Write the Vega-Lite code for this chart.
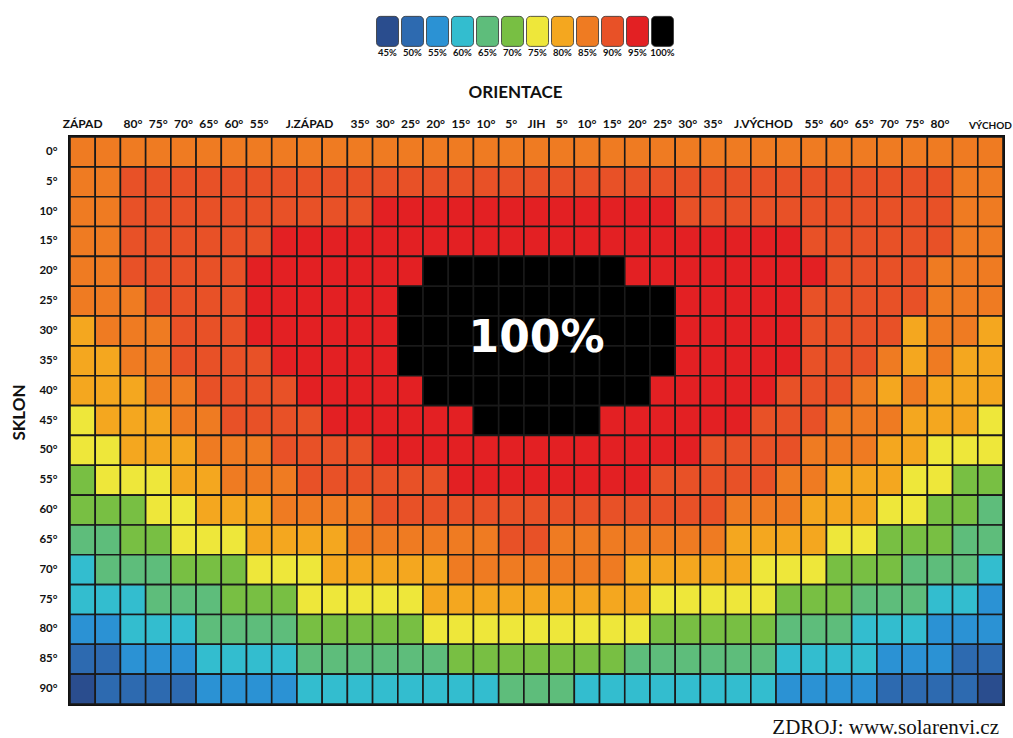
{
 "$schema": "https://vega.github.io/schema/vega-lite/v6.json",
 "width": 933,
 "height": 567,
 "autosize": {"type": "none"},
 "padding": {"left": 70, "top": 137, "right": 10, "bottom": 34},
 "background": "white",
 "config": {"view": {"stroke": "#111111", "strokeWidth": 4}, "font": "Lato"},
 "title": {"text": "ZDROJ: www.solarenvi.cz", "orient": "bottom", "anchor": "end", "frame": "group", "font": "Liberation Serif", "fontSize": 21, "fontWeight": "normal", "color": "#111111", "offset": 12, "baseline": "top", "dx": -4},
 "layer": [
  {
   "data": {"values": [
{"r":0,"c":0,"v":85},{"r":0,"c":1,"v":85},{"r":0,"c":2,"v":85},{"r":0,"c":3,"v":85},{"r":0,"c":4,"v":85},{"r":0,"c":5,"v":85},{"r":0,"c":6,"v":85},{"r":0,"c":7,"v":85},{"r":0,"c":8,"v":85},{"r":0,"c":9,"v":85},{"r":0,"c":10,"v":85},{"r":0,"c":11,"v":85},{"r":0,"c":12,"v":85},{"r":0,"c":13,"v":85},{"r":0,"c":14,"v":85},{"r":0,"c":15,"v":85},{"r":0,"c":16,"v":85},{"r":0,"c":17,"v":85},{"r":0,"c":18,"v":85},{"r":0,"c":19,"v":85},{"r":0,"c":20,"v":85},{"r":0,"c":21,"v":85},{"r":0,"c":22,"v":85},{"r":0,"c":23,"v":85},{"r":0,"c":24,"v":85},{"r":0,"c":25,"v":85},{"r":0,"c":26,"v":85},{"r":0,"c":27,"v":85},{"r":0,"c":28,"v":85},{"r":0,"c":29,"v":85},{"r":0,"c":30,"v":85},{"r":0,"c":31,"v":85},{"r":0,"c":32,"v":85},{"r":0,"c":33,"v":85},{"r":0,"c":34,"v":85},{"r":0,"c":35,"v":85},{"r":0,"c":36,"v":85},
{"r":5,"c":0,"v":85},{"r":5,"c":1,"v":85},{"r":5,"c":2,"v":90},{"r":5,"c":3,"v":90},{"r":5,"c":4,"v":90},{"r":5,"c":5,"v":90},{"r":5,"c":6,"v":90},{"r":5,"c":7,"v":90},{"r":5,"c":8,"v":90},{"r":5,"c":9,"v":90},{"r":5,"c":10,"v":90},{"r":5,"c":11,"v":90},{"r":5,"c":12,"v":90},{"r":5,"c":13,"v":90},{"r":5,"c":14,"v":90},{"r":5,"c":15,"v":90},{"r":5,"c":16,"v":90},{"r":5,"c":17,"v":90},{"r":5,"c":18,"v":90},{"r":5,"c":19,"v":90},{"r":5,"c":20,"v":90},{"r":5,"c":21,"v":90},{"r":5,"c":22,"v":90},{"r":5,"c":23,"v":90},{"r":5,"c":24,"v":90},{"r":5,"c":25,"v":90},{"r":5,"c":26,"v":90},{"r":5,"c":27,"v":90},{"r":5,"c":28,"v":90},{"r":5,"c":29,"v":90},{"r":5,"c":30,"v":90},{"r":5,"c":31,"v":90},{"r":5,"c":32,"v":90},{"r":5,"c":33,"v":90},{"r":5,"c":34,"v":90},{"r":5,"c":35,"v":85},{"r":5,"c":36,"v":85},
{"r":10,"c":0,"v":85},{"r":10,"c":1,"v":85},{"r":10,"c":2,"v":90},{"r":10,"c":3,"v":90},{"r":10,"c":4,"v":90},{"r":10,"c":5,"v":90},{"r":10,"c":6,"v":90},{"r":10,"c":7,"v":90},{"r":10,"c":8,"v":90},{"r":10,"c":9,"v":90},{"r":10,"c":10,"v":90},{"r":10,"c":11,"v":90},{"r":10,"c":12,"v":95},{"r":10,"c":13,"v":95},{"r":10,"c":14,"v":95},{"r":10,"c":15,"v":95},{"r":10,"c":16,"v":95},{"r":10,"c":17,"v":95},{"r":10,"c":18,"v":95},{"r":10,"c":19,"v":95},{"r":10,"c":20,"v":95},{"r":10,"c":21,"v":95},{"r":10,"c":22,"v":95},{"r":10,"c":23,"v":95},{"r":10,"c":24,"v":90},{"r":10,"c":25,"v":90},{"r":10,"c":26,"v":90},{"r":10,"c":27,"v":90},{"r":10,"c":28,"v":90},{"r":10,"c":29,"v":90},{"r":10,"c":30,"v":90},{"r":10,"c":31,"v":90},{"r":10,"c":32,"v":90},{"r":10,"c":33,"v":90},{"r":10,"c":34,"v":90},{"r":10,"c":35,"v":85},{"r":10,"c":36,"v":85},
{"r":15,"c":0,"v":85},{"r":15,"c":1,"v":85},{"r":15,"c":2,"v":90},{"r":15,"c":3,"v":90},{"r":15,"c":4,"v":90},{"r":15,"c":5,"v":90},{"r":15,"c":6,"v":90},{"r":15,"c":7,"v":90},{"r":15,"c":8,"v":95},{"r":15,"c":9,"v":95},{"r":15,"c":10,"v":95},{"r":15,"c":11,"v":95},{"r":15,"c":12,"v":95},{"r":15,"c":13,"v":95},{"r":15,"c":14,"v":95},{"r":15,"c":15,"v":95},{"r":15,"c":16,"v":95},{"r":15,"c":17,"v":95},{"r":15,"c":18,"v":95},{"r":15,"c":19,"v":95},{"r":15,"c":20,"v":95},{"r":15,"c":21,"v":95},{"r":15,"c":22,"v":95},{"r":15,"c":23,"v":95},{"r":15,"c":24,"v":95},{"r":15,"c":25,"v":95},{"r":15,"c":26,"v":95},{"r":15,"c":27,"v":95},{"r":15,"c":28,"v":95},{"r":15,"c":29,"v":90},{"r":15,"c":30,"v":90},{"r":15,"c":31,"v":90},{"r":15,"c":32,"v":90},{"r":15,"c":33,"v":90},{"r":15,"c":34,"v":90},{"r":15,"c":35,"v":85},{"r":15,"c":36,"v":85},
{"r":20,"c":0,"v":85},{"r":20,"c":1,"v":85},{"r":20,"c":2,"v":90},{"r":20,"c":3,"v":90},{"r":20,"c":4,"v":90},{"r":20,"c":5,"v":90},{"r":20,"c":6,"v":90},{"r":20,"c":7,"v":95},{"r":20,"c":8,"v":95},{"r":20,"c":9,"v":95},{"r":20,"c":10,"v":95},{"r":20,"c":11,"v":95},{"r":20,"c":12,"v":95},{"r":20,"c":13,"v":95},{"r":20,"c":14,"v":100},{"r":20,"c":15,"v":100},{"r":20,"c":16,"v":100},{"r":20,"c":17,"v":100},{"r":20,"c":18,"v":100},{"r":20,"c":19,"v":100},{"r":20,"c":20,"v":100},{"r":20,"c":21,"v":100},{"r":20,"c":22,"v":95},{"r":20,"c":23,"v":95},{"r":20,"c":24,"v":95},{"r":20,"c":25,"v":95},{"r":20,"c":26,"v":95},{"r":20,"c":27,"v":95},{"r":20,"c":28,"v":95},{"r":20,"c":29,"v":95},{"r":20,"c":30,"v":90},{"r":20,"c":31,"v":90},{"r":20,"c":32,"v":90},{"r":20,"c":33,"v":90},{"r":20,"c":34,"v":85},{"r":20,"c":35,"v":85},{"r":20,"c":36,"v":85},
{"r":25,"c":0,"v":85},{"r":25,"c":1,"v":85},{"r":25,"c":2,"v":85},{"r":25,"c":3,"v":90},{"r":25,"c":4,"v":90},{"r":25,"c":5,"v":90},{"r":25,"c":6,"v":90},{"r":25,"c":7,"v":95},{"r":25,"c":8,"v":95},{"r":25,"c":9,"v":95},{"r":25,"c":10,"v":95},{"r":25,"c":11,"v":95},{"r":25,"c":12,"v":95},{"r":25,"c":13,"v":100},{"r":25,"c":14,"v":100},{"r":25,"c":15,"v":100},{"r":25,"c":16,"v":100},{"r":25,"c":17,"v":100},{"r":25,"c":18,"v":100},{"r":25,"c":19,"v":100},{"r":25,"c":20,"v":100},{"r":25,"c":21,"v":100},{"r":25,"c":22,"v":100},{"r":25,"c":23,"v":100},{"r":25,"c":24,"v":95},{"r":25,"c":25,"v":95},{"r":25,"c":26,"v":95},{"r":25,"c":27,"v":95},{"r":25,"c":28,"v":95},{"r":25,"c":29,"v":90},{"r":25,"c":30,"v":90},{"r":25,"c":31,"v":90},{"r":25,"c":32,"v":90},{"r":25,"c":33,"v":90},{"r":25,"c":34,"v":85},{"r":25,"c":35,"v":85},{"r":25,"c":36,"v":85},
{"r":30,"c":0,"v":80},{"r":30,"c":1,"v":85},{"r":30,"c":2,"v":85},{"r":30,"c":3,"v":85},{"r":30,"c":4,"v":90},{"r":30,"c":5,"v":90},{"r":30,"c":6,"v":90},{"r":30,"c":7,"v":95},{"r":30,"c":8,"v":95},{"r":30,"c":9,"v":95},{"r":30,"c":10,"v":95},{"r":30,"c":11,"v":95},{"r":30,"c":12,"v":95},{"r":30,"c":13,"v":100},{"r":30,"c":14,"v":100},{"r":30,"c":15,"v":100},{"r":30,"c":16,"v":100},{"r":30,"c":17,"v":100},{"r":30,"c":18,"v":100},{"r":30,"c":19,"v":100},{"r":30,"c":20,"v":100},{"r":30,"c":21,"v":100},{"r":30,"c":22,"v":100},{"r":30,"c":23,"v":100},{"r":30,"c":24,"v":95},{"r":30,"c":25,"v":95},{"r":30,"c":26,"v":95},{"r":30,"c":27,"v":95},{"r":30,"c":28,"v":95},{"r":30,"c":29,"v":90},{"r":30,"c":30,"v":90},{"r":30,"c":31,"v":90},{"r":30,"c":32,"v":90},{"r":30,"c":33,"v":80},{"r":30,"c":34,"v":85},{"r":30,"c":35,"v":85},{"r":30,"c":36,"v":80},
{"r":35,"c":0,"v":80},{"r":35,"c":1,"v":80},{"r":35,"c":2,"v":85},{"r":35,"c":3,"v":85},{"r":35,"c":4,"v":90},{"r":35,"c":5,"v":90},{"r":35,"c":6,"v":90},{"r":35,"c":7,"v":90},{"r":35,"c":8,"v":95},{"r":35,"c":9,"v":95},{"r":35,"c":10,"v":95},{"r":35,"c":11,"v":95},{"r":35,"c":12,"v":95},{"r":35,"c":13,"v":100},{"r":35,"c":14,"v":100},{"r":35,"c":15,"v":100},{"r":35,"c":16,"v":100},{"r":35,"c":17,"v":100},{"r":35,"c":18,"v":100},{"r":35,"c":19,"v":100},{"r":35,"c":20,"v":100},{"r":35,"c":21,"v":100},{"r":35,"c":22,"v":100},{"r":35,"c":23,"v":100},{"r":35,"c":24,"v":95},{"r":35,"c":25,"v":95},{"r":35,"c":26,"v":95},{"r":35,"c":27,"v":95},{"r":35,"c":28,"v":95},{"r":35,"c":29,"v":90},{"r":35,"c":30,"v":90},{"r":35,"c":31,"v":90},{"r":35,"c":32,"v":85},{"r":35,"c":33,"v":80},{"r":35,"c":34,"v":85},{"r":35,"c":35,"v":80},{"r":35,"c":36,"v":80},
{"r":40,"c":0,"v":80},{"r":40,"c":1,"v":80},{"r":40,"c":2,"v":80},{"r":40,"c":3,"v":85},{"r":40,"c":4,"v":85},{"r":40,"c":5,"v":90},{"r":40,"c":6,"v":90},{"r":40,"c":7,"v":90},{"r":40,"c":8,"v":90},{"r":40,"c":9,"v":95},{"r":40,"c":10,"v":95},{"r":40,"c":11,"v":95},{"r":40,"c":12,"v":95},{"r":40,"c":13,"v":95},{"r":40,"c":14,"v":100},{"r":40,"c":15,"v":100},{"r":40,"c":16,"v":100},{"r":40,"c":17,"v":100},{"r":40,"c":18,"v":100},{"r":40,"c":19,"v":100},{"r":40,"c":20,"v":100},{"r":40,"c":21,"v":100},{"r":40,"c":22,"v":100},{"r":40,"c":23,"v":95},{"r":40,"c":24,"v":95},{"r":40,"c":25,"v":95},{"r":40,"c":26,"v":95},{"r":40,"c":27,"v":95},{"r":40,"c":28,"v":90},{"r":40,"c":29,"v":90},{"r":40,"c":30,"v":90},{"r":40,"c":31,"v":85},{"r":40,"c":32,"v":80},{"r":40,"c":33,"v":85},{"r":40,"c":34,"v":80},{"r":40,"c":35,"v":80},{"r":40,"c":36,"v":80},
{"r":45,"c":0,"v":75},{"r":45,"c":1,"v":80},{"r":45,"c":2,"v":80},{"r":45,"c":3,"v":80},{"r":45,"c":4,"v":85},{"r":45,"c":5,"v":85},{"r":45,"c":6,"v":90},{"r":45,"c":7,"v":90},{"r":45,"c":8,"v":90},{"r":45,"c":9,"v":90},{"r":45,"c":10,"v":95},{"r":45,"c":11,"v":95},{"r":45,"c":12,"v":95},{"r":45,"c":13,"v":95},{"r":45,"c":14,"v":95},{"r":45,"c":15,"v":95},{"r":45,"c":16,"v":100},{"r":45,"c":17,"v":100},{"r":45,"c":18,"v":100},{"r":45,"c":19,"v":100},{"r":45,"c":20,"v":100},{"r":45,"c":21,"v":95},{"r":45,"c":22,"v":95},{"r":45,"c":23,"v":95},{"r":45,"c":24,"v":95},{"r":45,"c":25,"v":95},{"r":45,"c":26,"v":95},{"r":45,"c":27,"v":90},{"r":45,"c":28,"v":90},{"r":45,"c":29,"v":90},{"r":45,"c":30,"v":85},{"r":45,"c":31,"v":85},{"r":45,"c":32,"v":85},{"r":45,"c":33,"v":80},{"r":45,"c":34,"v":80},{"r":45,"c":35,"v":80},{"r":45,"c":36,"v":75},
{"r":50,"c":0,"v":75},{"r":50,"c":1,"v":75},{"r":50,"c":2,"v":80},{"r":50,"c":3,"v":80},{"r":50,"c":4,"v":80},{"r":50,"c":5,"v":85},{"r":50,"c":6,"v":85},{"r":50,"c":7,"v":85},{"r":50,"c":8,"v":90},{"r":50,"c":9,"v":90},{"r":50,"c":10,"v":90},{"r":50,"c":11,"v":90},{"r":50,"c":12,"v":95},{"r":50,"c":13,"v":95},{"r":50,"c":14,"v":95},{"r":50,"c":15,"v":95},{"r":50,"c":16,"v":95},{"r":50,"c":17,"v":95},{"r":50,"c":18,"v":95},{"r":50,"c":19,"v":95},{"r":50,"c":20,"v":95},{"r":50,"c":21,"v":95},{"r":50,"c":22,"v":95},{"r":50,"c":23,"v":95},{"r":50,"c":24,"v":95},{"r":50,"c":25,"v":90},{"r":50,"c":26,"v":90},{"r":50,"c":27,"v":90},{"r":50,"c":28,"v":90},{"r":50,"c":29,"v":85},{"r":50,"c":30,"v":85},{"r":50,"c":31,"v":85},{"r":50,"c":32,"v":80},{"r":50,"c":33,"v":80},{"r":50,"c":34,"v":75},{"r":50,"c":35,"v":75},{"r":50,"c":36,"v":75},
{"r":55,"c":0,"v":70},{"r":55,"c":1,"v":75},{"r":55,"c":2,"v":75},{"r":55,"c":3,"v":75},{"r":55,"c":4,"v":80},{"r":55,"c":5,"v":80},{"r":55,"c":6,"v":85},{"r":55,"c":7,"v":85},{"r":55,"c":8,"v":85},{"r":55,"c":9,"v":90},{"r":55,"c":10,"v":90},{"r":55,"c":11,"v":90},{"r":55,"c":12,"v":90},{"r":55,"c":13,"v":90},{"r":55,"c":14,"v":90},{"r":55,"c":15,"v":95},{"r":55,"c":16,"v":95},{"r":55,"c":17,"v":95},{"r":55,"c":18,"v":95},{"r":55,"c":19,"v":95},{"r":55,"c":20,"v":95},{"r":55,"c":21,"v":95},{"r":55,"c":22,"v":95},{"r":55,"c":23,"v":90},{"r":55,"c":24,"v":90},{"r":55,"c":25,"v":90},{"r":55,"c":26,"v":90},{"r":55,"c":27,"v":90},{"r":55,"c":28,"v":85},{"r":55,"c":29,"v":85},{"r":55,"c":30,"v":80},{"r":55,"c":31,"v":80},{"r":55,"c":32,"v":80},{"r":55,"c":33,"v":75},{"r":55,"c":34,"v":75},{"r":55,"c":35,"v":70},{"r":55,"c":36,"v":70},
{"r":60,"c":0,"v":70},{"r":60,"c":1,"v":70},{"r":60,"c":2,"v":70},{"r":60,"c":3,"v":75},{"r":60,"c":4,"v":75},{"r":60,"c":5,"v":80},{"r":60,"c":6,"v":80},{"r":60,"c":7,"v":80},{"r":60,"c":8,"v":85},{"r":60,"c":9,"v":85},{"r":60,"c":10,"v":85},{"r":60,"c":11,"v":85},{"r":60,"c":12,"v":90},{"r":60,"c":13,"v":90},{"r":60,"c":14,"v":90},{"r":60,"c":15,"v":90},{"r":60,"c":16,"v":90},{"r":60,"c":17,"v":90},{"r":60,"c":18,"v":90},{"r":60,"c":19,"v":90},{"r":60,"c":20,"v":90},{"r":60,"c":21,"v":90},{"r":60,"c":22,"v":90},{"r":60,"c":23,"v":90},{"r":60,"c":24,"v":90},{"r":60,"c":25,"v":90},{"r":60,"c":26,"v":85},{"r":60,"c":27,"v":85},{"r":60,"c":28,"v":85},{"r":60,"c":29,"v":80},{"r":60,"c":30,"v":80},{"r":60,"c":31,"v":80},{"r":60,"c":32,"v":75},{"r":60,"c":33,"v":75},{"r":60,"c":34,"v":70},{"r":60,"c":35,"v":70},{"r":60,"c":36,"v":65},
{"r":65,"c":0,"v":65},{"r":65,"c":1,"v":65},{"r":65,"c":2,"v":70},{"r":65,"c":3,"v":70},{"r":65,"c":4,"v":75},{"r":65,"c":5,"v":75},{"r":65,"c":6,"v":75},{"r":65,"c":7,"v":80},{"r":65,"c":8,"v":80},{"r":65,"c":9,"v":80},{"r":65,"c":10,"v":80},{"r":65,"c":11,"v":85},{"r":65,"c":12,"v":85},{"r":65,"c":13,"v":85},{"r":65,"c":14,"v":85},{"r":65,"c":15,"v":85},{"r":65,"c":16,"v":85},{"r":65,"c":17,"v":90},{"r":65,"c":18,"v":90},{"r":65,"c":19,"v":85},{"r":65,"c":20,"v":85},{"r":65,"c":21,"v":85},{"r":65,"c":22,"v":85},{"r":65,"c":23,"v":85},{"r":65,"c":24,"v":85},{"r":65,"c":25,"v":85},{"r":65,"c":26,"v":80},{"r":65,"c":27,"v":80},{"r":65,"c":28,"v":80},{"r":65,"c":29,"v":80},{"r":65,"c":30,"v":75},{"r":65,"c":31,"v":75},{"r":65,"c":32,"v":70},{"r":65,"c":33,"v":70},{"r":65,"c":34,"v":70},{"r":65,"c":35,"v":65},{"r":65,"c":36,"v":65},
{"r":70,"c":0,"v":60},{"r":70,"c":1,"v":65},{"r":70,"c":2,"v":65},{"r":70,"c":3,"v":65},{"r":70,"c":4,"v":70},{"r":70,"c":5,"v":70},{"r":70,"c":6,"v":70},{"r":70,"c":7,"v":75},{"r":70,"c":8,"v":75},{"r":70,"c":9,"v":75},{"r":70,"c":10,"v":80},{"r":70,"c":11,"v":80},{"r":70,"c":12,"v":80},{"r":70,"c":13,"v":80},{"r":70,"c":14,"v":80},{"r":70,"c":15,"v":85},{"r":70,"c":16,"v":85},{"r":70,"c":17,"v":85},{"r":70,"c":18,"v":85},{"r":70,"c":19,"v":85},{"r":70,"c":20,"v":85},{"r":70,"c":21,"v":85},{"r":70,"c":22,"v":80},{"r":70,"c":23,"v":80},{"r":70,"c":24,"v":80},{"r":70,"c":25,"v":80},{"r":70,"c":26,"v":80},{"r":70,"c":27,"v":75},{"r":70,"c":28,"v":75},{"r":70,"c":29,"v":75},{"r":70,"c":30,"v":70},{"r":70,"c":31,"v":70},{"r":70,"c":32,"v":70},{"r":70,"c":33,"v":65},{"r":70,"c":34,"v":65},{"r":70,"c":35,"v":65},{"r":70,"c":36,"v":60},
{"r":75,"c":0,"v":60},{"r":75,"c":1,"v":60},{"r":75,"c":2,"v":60},{"r":75,"c":3,"v":65},{"r":75,"c":4,"v":65},{"r":75,"c":5,"v":65},{"r":75,"c":6,"v":70},{"r":75,"c":7,"v":70},{"r":75,"c":8,"v":70},{"r":75,"c":9,"v":75},{"r":75,"c":10,"v":75},{"r":75,"c":11,"v":75},{"r":75,"c":12,"v":75},{"r":75,"c":13,"v":75},{"r":75,"c":14,"v":80},{"r":75,"c":15,"v":80},{"r":75,"c":16,"v":80},{"r":75,"c":17,"v":80},{"r":75,"c":18,"v":80},{"r":75,"c":19,"v":80},{"r":75,"c":20,"v":80},{"r":75,"c":21,"v":80},{"r":75,"c":22,"v":80},{"r":75,"c":23,"v":75},{"r":75,"c":24,"v":75},{"r":75,"c":25,"v":75},{"r":75,"c":26,"v":75},{"r":75,"c":27,"v":75},{"r":75,"c":28,"v":70},{"r":75,"c":29,"v":70},{"r":75,"c":30,"v":70},{"r":75,"c":31,"v":65},{"r":75,"c":32,"v":65},{"r":75,"c":33,"v":65},{"r":75,"c":34,"v":60},{"r":75,"c":35,"v":60},{"r":75,"c":36,"v":55},
{"r":80,"c":0,"v":55},{"r":80,"c":1,"v":55},{"r":80,"c":2,"v":60},{"r":80,"c":3,"v":60},{"r":80,"c":4,"v":60},{"r":80,"c":5,"v":65},{"r":80,"c":6,"v":65},{"r":80,"c":7,"v":65},{"r":80,"c":8,"v":65},{"r":80,"c":9,"v":70},{"r":80,"c":10,"v":70},{"r":80,"c":11,"v":70},{"r":80,"c":12,"v":70},{"r":80,"c":13,"v":70},{"r":80,"c":14,"v":75},{"r":80,"c":15,"v":75},{"r":80,"c":16,"v":75},{"r":80,"c":17,"v":75},{"r":80,"c":18,"v":75},{"r":80,"c":19,"v":75},{"r":80,"c":20,"v":75},{"r":80,"c":21,"v":75},{"r":80,"c":22,"v":75},{"r":80,"c":23,"v":70},{"r":80,"c":24,"v":70},{"r":80,"c":25,"v":70},{"r":80,"c":26,"v":70},{"r":80,"c":27,"v":70},{"r":80,"c":28,"v":65},{"r":80,"c":29,"v":65},{"r":80,"c":30,"v":65},{"r":80,"c":31,"v":60},{"r":80,"c":32,"v":60},{"r":80,"c":33,"v":60},{"r":80,"c":34,"v":55},{"r":80,"c":35,"v":55},{"r":80,"c":36,"v":55},
{"r":85,"c":0,"v":50},{"r":85,"c":1,"v":50},{"r":85,"c":2,"v":55},{"r":85,"c":3,"v":55},{"r":85,"c":4,"v":55},{"r":85,"c":5,"v":60},{"r":85,"c":6,"v":60},{"r":85,"c":7,"v":60},{"r":85,"c":8,"v":60},{"r":85,"c":9,"v":65},{"r":85,"c":10,"v":65},{"r":85,"c":11,"v":65},{"r":85,"c":12,"v":65},{"r":85,"c":13,"v":65},{"r":85,"c":14,"v":65},{"r":85,"c":15,"v":70},{"r":85,"c":16,"v":70},{"r":85,"c":17,"v":70},{"r":85,"c":18,"v":70},{"r":85,"c":19,"v":70},{"r":85,"c":20,"v":70},{"r":85,"c":21,"v":70},{"r":85,"c":22,"v":65},{"r":85,"c":23,"v":65},{"r":85,"c":24,"v":65},{"r":85,"c":25,"v":65},{"r":85,"c":26,"v":65},{"r":85,"c":27,"v":65},{"r":85,"c":28,"v":60},{"r":85,"c":29,"v":60},{"r":85,"c":30,"v":60},{"r":85,"c":31,"v":60},{"r":85,"c":32,"v":55},{"r":85,"c":33,"v":55},{"r":85,"c":34,"v":55},{"r":85,"c":35,"v":50},{"r":85,"c":36,"v":50},
{"r":90,"c":0,"v":45},{"r":90,"c":1,"v":50},{"r":90,"c":2,"v":50},{"r":90,"c":3,"v":50},{"r":90,"c":4,"v":50},{"r":90,"c":5,"v":55},{"r":90,"c":6,"v":55},{"r":90,"c":7,"v":55},{"r":90,"c":8,"v":55},{"r":90,"c":9,"v":60},{"r":90,"c":10,"v":60},{"r":90,"c":11,"v":60},{"r":90,"c":12,"v":60},{"r":90,"c":13,"v":60},{"r":90,"c":14,"v":60},{"r":90,"c":15,"v":60},{"r":90,"c":16,"v":60},{"r":90,"c":17,"v":65},{"r":90,"c":18,"v":65},{"r":90,"c":19,"v":65},{"r":90,"c":20,"v":60},{"r":90,"c":21,"v":60},{"r":90,"c":22,"v":60},{"r":90,"c":23,"v":60},{"r":90,"c":24,"v":60},{"r":90,"c":25,"v":60},{"r":90,"c":26,"v":60},{"r":90,"c":27,"v":60},{"r":90,"c":28,"v":55},{"r":90,"c":29,"v":55},{"r":90,"c":30,"v":55},{"r":90,"c":31,"v":55},{"r":90,"c":32,"v":50},{"r":90,"c":33,"v":50},{"r":90,"c":34,"v":50},{"r":90,"c":35,"v":50},{"r":90,"c":36,"v":45}
   ]},
   "mark": {"type": "rect", "stroke": "#1a1a1a", "strokeWidth": 1.6},
   "encoding": {
    "x": {"field": "c", "type": "ordinal", "scale": {"paddingInner": 0, "paddingOuter": 0},
      "axis": {"orient": "top", "title": "ORIENTACE", "titleFont": "Lato", "titleFontSize": 17, "titleFontWeight": "bold", "titleColor": "#111111", "titleX": 445, "titleY": -45, "titleAlign": "center", "titleBaseline": "middle", "titleAnchor": "middle",
        "labelExpr": "['ZÁPAD','','80°','75°','70°','65°','60°','55°','','J.ZÁPAD','','35°','30°','25°','20°','15°','10°','5°','JIH','5°','10°','15°','20°','25°','30°','35°','','J.VÝCHOD','','55°','60°','65°','70°','75°','80°','','VÝCHOD'][datum.value]",
        "labelAngle": 0, "labelFont": "Lato", "labelFontSize": {"condition": {"test": "datum.value === 36", "value": 10}, "value": 12}, "labelFontWeight": "bold", "labelColor": "#111111", "labelPadding": 7, "labelOverlap": false, "labelBound": false, "ticks": false, "domain": false}},
    "y": {"field": "r", "type": "ordinal", "scale": {"paddingInner": 0, "paddingOuter": 0},
      "axis": {"title": "SKLON", "titleFont": "Lato", "titleFontSize": 17, "titleFontWeight": "bold", "titleColor": "#111111", "titleX": -51, "titleY": 275, "titleAngle": -90, "titleAlign": "center", "titleBaseline": "middle",
        "labelExpr": "datum.value + '°'", "labelFont": "Lato", "labelFontSize": 11.5, "labelFontWeight": "bold", "labelColor": "#111111", "labelPadding": 13, "ticks": false, "domain": false}},
    "color": {"field": "v", "type": "ordinal",
      "scale": {"domain": [45, 50, 55, 60, 65, 70, 75, 80, 85, 90, 95, 100],
        "range": ["#2a4d8e", "#2d6ab0", "#2b92d4", "#33bdcf", "#5ebd7b", "#78bf43", "#eee73a", "#f4a71f", "#ef7b22", "#e85127", "#e32023", "#000000"]},
      "legend": {"orient": "none", "legendX": 306, "legendY": -101, "direction": "horizontal", "columns": 12, "title": null,
        "symbolType": "M -0.65 -2.83 H 0.65 A 0.35 0.35 0 0 1 1 -2.48 V -0.45 A 0.35 0.35 0 0 1 0.65 -0.1 H -0.65 A 0.35 0.35 0 0 1 -1 -0.45 V -2.48 A 0.35 0.35 0 0 1 -0.65 -2.83 Z",
        "symbolSize": 484, "symbolStrokeColor": "#333333", "symbolStrokeWidth": 0.8, "symbolOpacity": 1, "columnPadding": -7.1,
        "labelExpr": "datum.label + '%'", "labelFont": "Lato", "labelFontSize": 9.5, "labelFontWeight": "bold", "labelColor": "#111111", "labelAlign": "center", "labelBaseline": "top", "labelOffset": -11.5}}
   }
  },
  {
   "data": {"values": [{"c": 18, "r": 30, "t": "100%"}]},
   "mark": {"type": "text", "font": "DejaVu Sans", "fontWeight": "bold", "fontSize": 44, "color": "white", "dy": 8},
   "encoding": {
    "x": {"field": "c", "type": "ordinal"},
    "y": {"field": "r", "type": "ordinal"},
    "text": {"field": "t"}
   }
  }
 ]
}
